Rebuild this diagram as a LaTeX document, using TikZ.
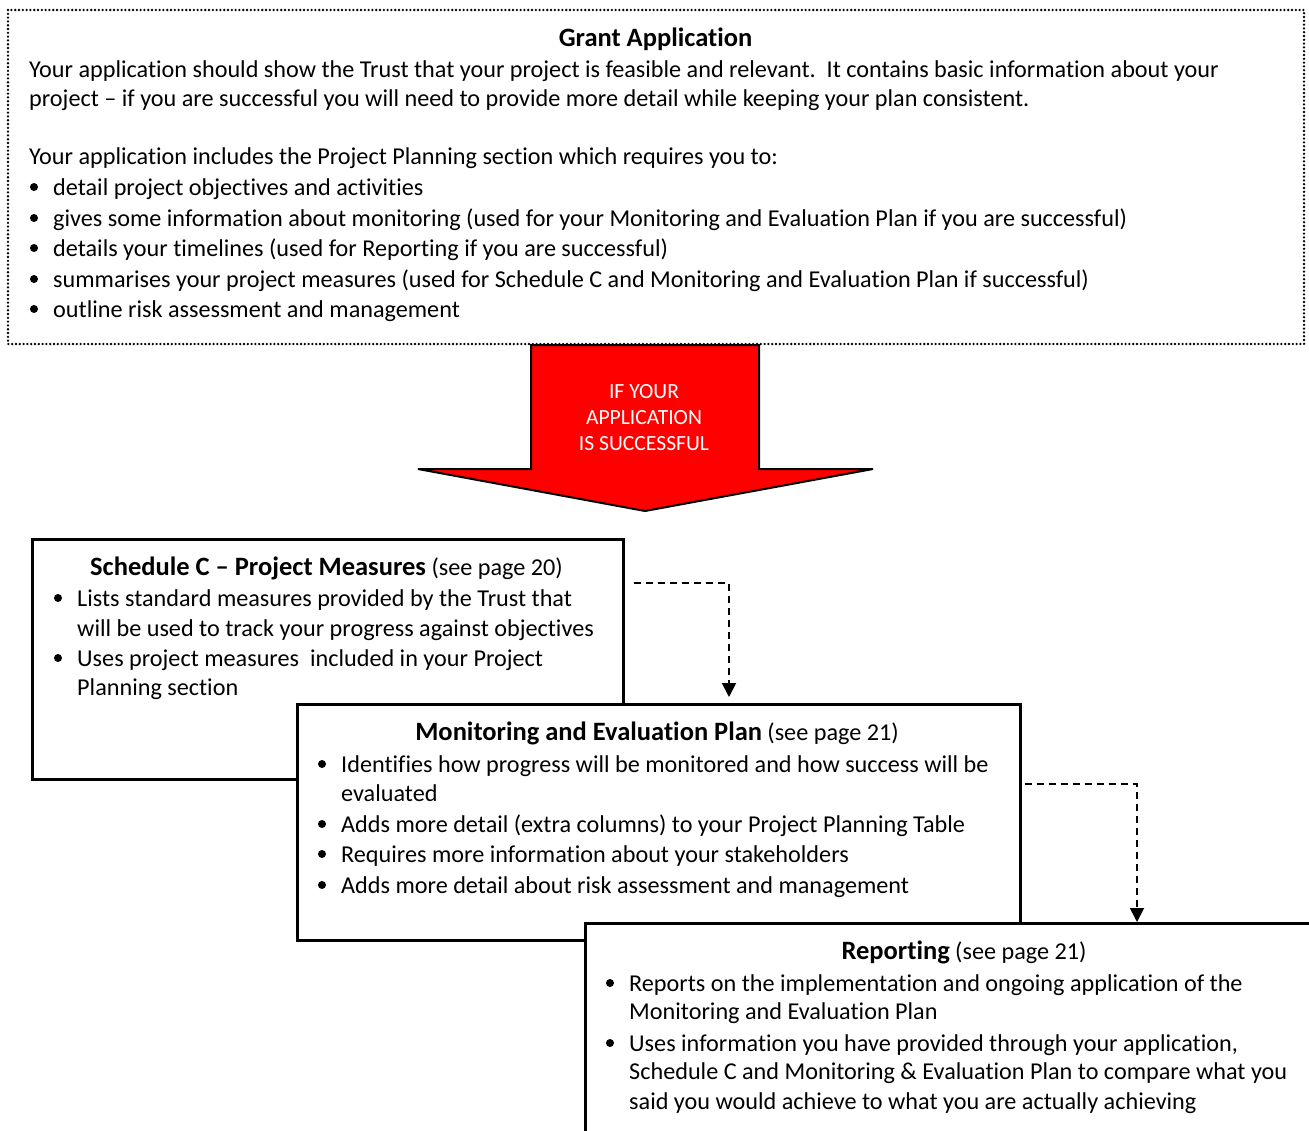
\documentclass[tikz,border=0pt]{standalone}
\usepackage{fontspec}
\setmainfont{Carlito}[Ligatures={NoCommon}]
\usetikzlibrary{arrows.meta}
\newcommand\txtline[4]{\node[ln] (#1) at (#2,#3) {#4};}
\newcommand\bulat[3]{\node[bul] (#1) at (#2,#3) {};}
\newcommand\ttlfont{\fontsize{26.5}{30}\selectfont\bfseries}
\begin{document}
\begin{tikzpicture}[x=1pt,y=-1pt,
  ln/.style={anchor=base west, inner sep=0pt, font=\fontsize{24.2}{30}\selectfont},
  ttl/.style={anchor=base, inner sep=0pt, font=\fontsize{24.2}{30}\selectfont},
  bul/.style={circle, fill=black, inner sep=0pt, minimum size=8pt},
  box/.style={draw=black, line width=2.5pt, fill=white, anchor=north west, inner sep=0pt},
  dotbox/.style={draw=black, line width=2.6pt, dash pattern=on 0pt off 3.8pt, line cap=round},
  conn/.style={draw=black, line width=1.8pt, dash pattern=on 7pt off 5pt, -{Triangle[length=14pt,width=14pt]}},
  bigarrow/.style={fill=red, draw=black, line width=2pt, line join=miter},
  arrtxt/.style={anchor=base, inner sep=0pt, text=white, font=\fontsize{21.6}{26}\selectfont}]
\clip (0,0) rectangle (1309,1130);
\fill[white] (0,0) rectangle (1309,1130);

% ---------- Grant Application (dotted box)
\draw[dotbox] (8,10) rectangle (1304,344);
\node[ttl] (gtitle) at (655.5,46) {{\ttlfont Grant Application}};
\txtline{g1}{29}{77}{Your application should show the Trust that your project is feasible and relevant.\ \ It contains basic information about your}
\txtline{g2}{29}{106}{project -- if you are successful you will need to provide more detail while keeping your plan consistent.}
\txtline{g3}{29}{164}{Your application includes the Project Planning section which requires you to:}
\bulat{gb1}{34}{187}\txtline{g4}{53}{195}{detail project objectives and activities}
\bulat{gb2}{34}{218}\txtline{g5}{53}{226}{gives some information about monitoring (used for your Monitoring and Evaluation Plan if you are successful)}
\bulat{gb3}{34}{248}\txtline{g6}{53}{256}{details your timelines (used for Reporting if you are successful)}
\bulat{gb4}{34}{279}\txtline{g7}{53}{287}{summarises your project measures (used for Schedule C and Monitoring and Evaluation Plan if successful)}
\bulat{gb5}{34}{309}\txtline{g8}{53}{317}{outline risk assessment and management}

% ---------- big red arrow
\draw[bigarrow] (531,345) -- (759,345) -- (759,469) -- (873,469) -- (645,511) -- (418,469) -- (531,469) -- cycle;
\node[arrtxt] (a1) at (644,398) {IF YOUR};
\node[arrtxt] (a2) at (644,424) {APPLICATION};
\node[arrtxt] (a3) at (644,450) {IS SUCCESSFUL};

% ---------- Schedule C
\node[box, minimum width=591pt, minimum height=240pt] (sc) at (31,538) {};
\node[ttl] (sct) at (326.5,575) {{\ttlfont Schedule C -- Project Measures} (see page 20)};
\bulat{sb1}{58}{598}\txtline{s1}{77}{606}{Lists standard measures provided by the Trust that}
\txtline{s2}{77}{636}{will be used to track your progress against objectives}
\bulat{sb2}{58}{658}\txtline{s3}{77}{666}{Uses project measures\ \ included in your Project}
\txtline{s4}{77}{695}{Planning section}

% ---------- Monitoring and Evaluation Plan
\node[box, minimum width=723pt, minimum height=236pt] (me) at (296,703) {};
\node[ttl] (met) at (657,740) {{\ttlfont Monitoring and Evaluation Plan} (see page 21)};
\bulat{mb1}{322}{764}\txtline{m1}{341}{772}{Identifies how progress will be monitored and how success will be}
\txtline{m2}{341}{801}{evaluated}
\bulat{mb2}{322}{824}\txtline{m3}{341}{832}{Adds more detail (extra columns) to your Project Planning Table}
\bulat{mb3}{322}{854}\txtline{m4}{341}{862}{Requires more information about your stakeholders}
\bulat{mb4}{322}{885}\txtline{m5}{341}{893}{Adds more detail about risk assessment and management}

% ---------- Reporting
\node[box, minimum width=760pt, minimum height=240pt] (rp) at (584,922) {};
\node[ttl] (rpt) at (964,959) {{\ttlfont Reporting} (see page 21)};
\bulat{rb1}{610}{983}\txtline{r1}{629}{991}{Reports on the implementation and ongoing application of the}
\txtline{r2}{629}{1019}{Monitoring and Evaluation Plan}
\bulat{rb2}{610}{1043}\txtline{r3}{629}{1051}{Uses information you have provided through your application,}
\txtline{r4}{629}{1079}{Schedule C and Monitoring \& Evaluation Plan to compare what you}
\txtline{r5}{629}{1109}{said you would achieve to what you are actually achieving}

% ---------- dashed connectors
\coordinate (c1) at ([xshift=9pt,yshift=-45pt]sc.north east);
\coordinate (c2) at ([xshift=3pt,yshift=-81pt]me.north east);
\draw[conn] (c1) -| ([xshift=433pt,yshift=6pt]me.north west);
\draw[conn] (c2) -| ([xshift=553pt]rp.north west);
\end{tikzpicture}
\end{document}
